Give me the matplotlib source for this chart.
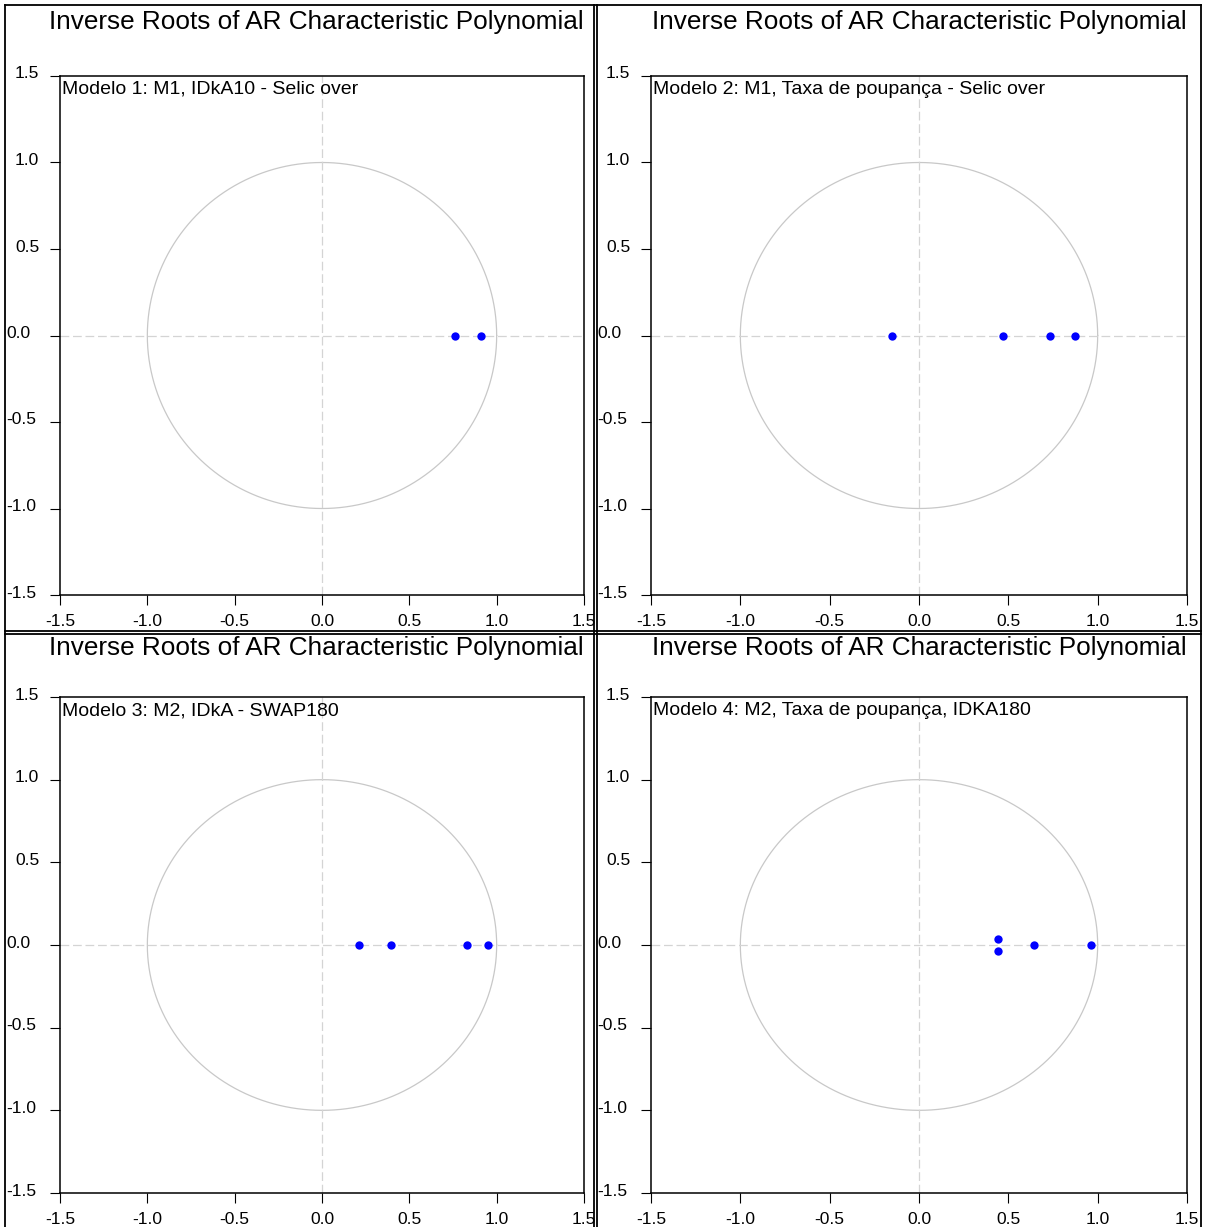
import matplotlib
matplotlib.use("Agg")
import matplotlib.pyplot as plt
import matplotlib.transforms as mtransforms
from matplotlib.lines import Line2D
import numpy as np

plt.rcParams['font.family'] = ['Liberation Sans', 'DejaVu Sans']

# Inverse roots (real and imaginary parts) for each VAR model
model_labels = [
    "Modelo 1: M1, IDkA10 - Selic over",
    "Modelo 2: M1, Taxa de poupança - Selic over",
    "Modelo 3: M2, IDkA - SWAP180",
    "Modelo 4: M2, Taxa de poupança, IDKA180",
]
m1_real = [0.76, 0.91]
m1_imag = [0.0, 0.0]
m2_real = [-0.153, 0.468, 0.736, 0.872]
m2_imag = [0.0, 0.0, 0.0, 0.0]
m3_real = [0.21, 0.394, 0.831, 0.951]
m3_imag = [0.0, 0.0, 0.0, 0.0]
m4_real = [0.443, 0.443, 0.644, 0.961]
m4_imag = [0.035, -0.035, 0.0, 0.0]

title_text = "Inverse Roots of AR Characteristic Polynomial"
tick_values = [-1.5, -1.0, -0.5, 0.0, 0.5, 1.0, 1.5]
tick_labels = ["-1.5", "-1.0", "-0.5", "0.0", "0.5", "1.0", "1.5"]

W, H = 1211, 1227
fig = plt.figure(figsize=(W / 100, H / 100), dpi=100)


def px_axes(left, right, top, bottom):
    return fig.add_axes([left / W, 1 - bottom / H, (right - left) / W, (bottom - top) / H])


boxes = [
    (60, 584, 76, 595),
    (651, 1187, 76, 595),
    (60, 584, 697, 1193),
    (651, 1187, 697, 1193),
]
title_pos = [(316, 22), (919, 22), (316, 648), (919, 648)]
series = [(m1_real, m1_imag), (m2_real, m2_imag), (m3_real, m3_imag), (m4_real, m4_imag)]

theta = np.linspace(0, 2 * np.pi, 721)
grey = "#c8c8c8"

for (l, r, t, b), (tx, ty), lab, (re, im) in zip(boxes, title_pos, model_labels, series):
    ax = px_axes(l, r, t, b)
    ax.set_xlim(-1.5, 1.5)
    ax.set_ylim(-1.5, 1.5)
    # unit circle and zero reference lines
    ax.plot(np.cos(theta), np.sin(theta), color=grey, lw=0.9, zorder=1)
    ax.axhline(0, color="#d4d4d4", lw=0.9, ls=(0, (7, 3)), zorder=2)
    ax.axvline(0, color="#d4d4d4", lw=0.9, ls=(0, (7, 3)), zorder=2)
    ax.plot(re, im, 'o', color="#0000ff", markersize=6, markeredgewidth=0, zorder=4)

    ax.set_xticks(tick_values)
    ax.set_xticklabels(tick_labels)
    ax.set_yticks(tick_values)
    ax.set_yticklabels([])
    ax.tick_params(axis='both', direction='out', length=7, width=0.8, labelsize=12.5,
                   colors='black')
    ax.tick_params(axis='x', pad=7)
    for s in ax.spines.values():
        s.set_linewidth(1.1)

    # y labels: left-aligned in the margin, positive ones indented
    for v, txt in zip(tick_values, tick_labels):
        dx = 45 if v > 0 else 54
        tr = ax.get_yaxis_transform() + mtransforms.ScaledTranslation(
            -dx / 100, 2 / 100, fig.dpi_scale_trans)
        ax.text(0, v, txt, transform=tr, ha='left', va='center', fontsize=12.5,
                clip_on=False)

    ax.text(2 / (r - l), 1 - 5 / (b - t), lab, transform=ax.transAxes,
            ha='left', va='top', fontsize=14, zorder=3)

    fig.text(tx / W, 1 - ty / H, title_text, ha='center', va='center', fontsize=18.8)

# panel frames
frame_lines = [
    ((5, 1201), (5, 5)),
    ((5, 1201), (631, 631)),
    ((5, 1201), (634, 634)),
    ((5, 5), (5, 1227)),
    ((594, 594), (5, 1227)),
    ((597, 597), (5, 1227)),
    ((1201, 1201), (5, 1227)),
]
for xs, ys in frame_lines:
    fig.add_artist(Line2D([x / W for x in xs], [1 - y / H for y in ys],
                          transform=fig.transFigure, color='black', lw=1.3))

fig.savefig("out.png", dpi=100)
